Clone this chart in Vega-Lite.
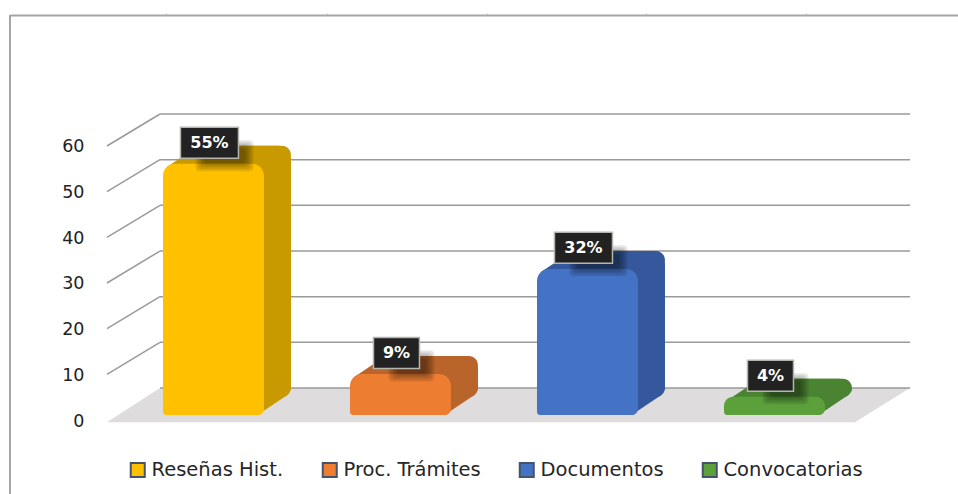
{
  "$schema": "https://vega.github.io/schema/vega-lite/v6.json",
  "width": 948,
  "height": 479,
  "padding": {"left": 10, "top": 15, "right": 0, "bottom": 0},
  "autosize": {"type": "none"},
  "background": "white",
  "config": {"view": {"stroke": null}},
  "datasets": {
    "barras": [
      {"categoria": "Reseñas Hist.", "valor": 55, "etiqueta": "55%"},
      {"categoria": "Proc. Trámites", "valor": 9, "etiqueta": "9%"},
      {"categoria": "Documentos", "valor": 32, "etiqueta": "32%"},
      {"categoria": "Convocatorias", "valor": 4, "etiqueta": "4%"}
    ],
    "marcas": [
      {"valor": 0}, {"valor": 10}, {"valor": 20}, {"valor": 30},
      {"valor": 40}, {"valor": 50}, {"valor": 60}
    ],
    "suelo": [{"fondo": 0}, {"fondo": 1}]
  },
  "data": {"name": "barras"},
  "transform": [
    {"calculate": "indexof(['Reseñas Hist.','Proc. Trámites','Documentos','Convocatorias'],datum.categoria)", "as": "i"},
    {"calculate": "datum.i", "as": "x0"},
    {"calculate": "datum.i+0.54", "as": "x1"},
    {"calculate": "datum.valor+1.09", "as": "cima"},
    {"calculate": "{'Reseñas Hist.':'#c99a00','Proc. Trámites':'#b8642a','Documentos':'#34589b','Convocatorias':'#4a8331'}[datum.categoria]", "as": "oscuro"}
  ],
  "layer": [
    {
      "data": {"name": "suelo"},
      "transform": [
        {"calculate": "datum.fondo*7.5-0.5", "as": "ny"},
        {"calculate": "-0.2995+datum.fondo*0.2834", "as": "na"},
        {"calculate": "3.70+datum.fondo*0.2944", "as": "nb"}
      ],
      "mark": {"type": "area", "orient": "horizontal", "color": "#dedcdc"},
      "encoding": {
        "y": {
          "field": "ny", "type": "quantitative",
          "scale": {"domain": [-16.2, 88.68], "nice": false, "zero": false},
          "axis": {
            "orient": "left", "offset": -74, "values": [0, 10, 20, 30, 40, 50, 60],
            "domain": false, "ticks": false, "grid": false, "title": null,
            "labelPadding": 0, "labelOffset": 1, "labelFont": "DejaVu Sans", "labelFontSize": 17.5, "labelColor": "#222222"
          }
        },
        "x": {
          "field": "na", "type": "quantitative",
          "scale": {"domain": [-0.818, 4.2513], "nice": false, "zero": false},
          "axis": {
            "orient": "top", "values": [0.016, 0.877, 1.733, 2.583, 3.439],
            "labels": false, "grid": false, "title": null,
            "domainColor": "#a6a6a6", "domainWidth": 2,
            "tickColor": "#c8c8c8", "tickSize": 2
          }
        },
        "x2": {"field": "nb"}
      }
    },
    {
      "mark": {"type": "rule", "color": "#a6a6a6", "strokeWidth": 2},
      "encoding": {"x": {"datum": -0.818, "type": "quantitative"}}
    },
    {
      "data": {"name": "marcas"},
      "transform": [{"filter": "datum.valor>0"}, {"calculate": "datum.valor+7", "as": "atras"}, {"calculate": "-0.2995", "as": "xa"}, {"calculate": "-0.016", "as": "xb"}],
      "mark": {"type": "rule", "color": "#9a9a9a", "strokeWidth": 1.5},
      "encoding": {
        "x": {"field": "xa", "type": "quantitative"},
        "x2": {"field": "xb"},
        "y": {"field": "valor", "type": "quantitative"},
        "y2": {"field": "atras"}
      }
    },
    {
      "data": {"name": "marcas"},
      "transform": [{"calculate": "datum.valor+7", "as": "atras"}, {"calculate": "-0.016", "as": "xb"}, {"calculate": "3.995", "as": "xc"}],
      "mark": {"type": "rule", "color": "#9a9a9a", "strokeWidth": 1.5},
      "encoding": {
        "x": {"field": "xb", "type": "quantitative"},
        "x2": {"field": "xc"},
        "y": {"field": "atras", "type": "quantitative"}
      }
    },
    {
      "transform": [
        {"calculate": "datum.x0+0.144", "as": "bx0"},
        {"calculate": "datum.x1+0.144", "as": "bx1"},
        {"calculate": "1.09+3.94", "as": "by0"},
        {"calculate": "datum.cima+3.94", "as": "by1"}
      ],
      "mark": {"type": "rect", "cornerRadius": 9},
      "encoding": {
        "x": {"field": "bx0", "type": "quantitative"},
        "x2": {"field": "bx1"},
        "y": {"field": "by0", "type": "quantitative"},
        "y2": {"field": "by1"},
        "fill": {"field": "oscuro", "type": "nominal", "scale": null}
      }
    },
    {
      "transform": [
        {"calculate": "[0,1]", "as": "k"},
        {"flatten": ["k"]},
        {"calculate": "[0,0.29,1]", "as": "s"},
        {"flatten": ["s"]},
        {"calculate": "datum.s*0.064", "as": "sx"},
        {"calculate": "(datum.s==0?1:(datum.s==1?0:0.29))*2.63", "as": "sy"},
        {"calculate": "datum.x1-datum.sx+datum.k*0.144", "as": "lx"},
        {"calculate": "datum.cima-datum.sy+datum.k*3.94", "as": "ly"},
        {"calculate": "1.09+datum.sy*0.6+datum.k*3.94", "as": "ly2"}
      ],
      "mark": {"type": "area"},
      "encoding": {
        "x": {"field": "lx", "type": "quantitative"},
        "y": {"field": "ly", "type": "quantitative"},
        "y2": {"field": "ly2"},
        "detail": {"field": "s"},
        "fill": {"field": "oscuro", "type": "nominal", "scale": null}
      }
    },
    {
      "transform": [
        {"calculate": "[0,1]", "as": "k"},
        {"flatten": ["k"]},
        {"calculate": "[1,0.29]", "as": "s"},
        {"flatten": ["s"]},
        {"calculate": "datum.s*0.064", "as": "sx"},
        {"calculate": "(datum.s==1?0:0.29)*2.63", "as": "sy"},
        {"calculate": "datum.x0+datum.sx+datum.k*0.144", "as": "ta"},
        {"calculate": "datum.x1-datum.sx+datum.k*0.144", "as": "tb"},
        {"calculate": "datum.cima-datum.sy+datum.k*3.94", "as": "ty"}
      ],
      "mark": {"type": "area", "orient": "horizontal"},
      "encoding": {
        "y": {"field": "ty", "type": "quantitative"},
        "x": {"field": "ta", "type": "quantitative"},
        "x2": {"field": "tb"},
        "detail": {"field": "s"},
        "fill": {"field": "oscuro", "type": "nominal", "scale": null}
      }
    },
    {
      "transform": [{"calculate": "1.09", "as": "base"}],
      "mark": {"type": "rect", "cornerRadiusTopLeft": 12, "cornerRadiusTopRight": 12, "cornerRadiusBottomLeft": 3, "cornerRadiusBottomRight": 6},
      "encoding": {
        "x": {"field": "x0", "type": "quantitative"},
        "x2": {"field": "x1"},
        "y": {"field": "base", "type": "quantitative"},
        "y2": {"field": "cima"},
        "color": {
          "field": "categoria", "type": "nominal",
          "scale": {
            "domain": ["Reseñas Hist.", "Proc. Trámites", "Documentos", "Convocatorias"],
            "range": ["#ffc000", "#ed7d31", "#4472c4", "#5ca03c"]
          },
          "legend": {
            "orient": "none", "legendX": 118, "legendY": 445, "direction": "horizontal", "columns": 4,
            "title": null, "symbolType": "square", "symbolSize": 196,
            "symbolStrokeColor": "#44546a", "symbolStrokeWidth": 2, "symbolOpacity": 1,
            "labelFont": "DejaVu Sans", "labelFontSize": 19.5, "labelColor": "#262626",
            "columnPadding": 34, "labelOffset": 4
          }
        }
      }
    },
    {
      "transform": [
        {"calculate": "[8,6,4,2,0]", "as": "e"},
        {"flatten": ["e"]},
        {"calculate": "length(datum.etiqueta)==3?29:23", "as": "hw"},
        {"calculate": "(datum.x0+datum.x1)/2-4/187", "as": "cx"},
        {"calculate": "datum.cx+(15-datum.hw+datum.e)/187", "as": "sa"},
        {"calculate": "datum.cx+(15+datum.hw-datum.e)/187", "as": "sb"},
        {"calculate": "datum.valor+5.7-(13+15.5-datum.e)/4.567", "as": "sc"},
        {"calculate": "datum.valor+5.7-(13-15.5+datum.e)/4.567", "as": "sd"}
      ],
      "mark": {"type": "rect", "color": "#000000", "opacity": 0.1, "cornerRadius": 4},
      "encoding": {
        "x": {"field": "sa", "type": "quantitative"},
        "x2": {"field": "sb"},
        "y": {"field": "sc", "type": "quantitative"},
        "y2": {"field": "sd"}
      }
    },
    {
      "transform": [
        {"calculate": "length(datum.etiqueta)==3?29:23", "as": "hw"},
        {"calculate": "(datum.x0+datum.x1)/2-4/187", "as": "cx"},
        {"calculate": "datum.cx-datum.hw/187", "as": "ca"},
        {"calculate": "datum.cx+datum.hw/187", "as": "cb"},
        {"calculate": "datum.valor+5.7-15.5/4.567", "as": "cc"},
        {"calculate": "datum.valor+5.7+15.5/4.567", "as": "cd"}
      ],
      "mark": {"type": "rect", "fill": "#222222", "stroke": "#b5b5ad", "strokeWidth": 1.5},
      "encoding": {
        "x": {"field": "ca", "type": "quantitative"},
        "x2": {"field": "cb"},
        "y": {"field": "cc", "type": "quantitative"},
        "y2": {"field": "cd"}
      }
    },
    {
      "transform": [
        {"calculate": "(datum.x0+datum.x1)/2-4/187", "as": "cx"},
        {"calculate": "datum.valor+5.7", "as": "cy"}
      ],
      "mark": {"type": "text", "color": "#ffffff", "font": "DejaVu Sans", "fontWeight": "bold", "fontSize": 16, "align": "center", "baseline": "middle"},
      "encoding": {
        "x": {"field": "cx", "type": "quantitative"},
        "y": {"field": "cy", "type": "quantitative"},
        "text": {"field": "etiqueta", "type": "nominal"}
      }
    }
  ]
}
